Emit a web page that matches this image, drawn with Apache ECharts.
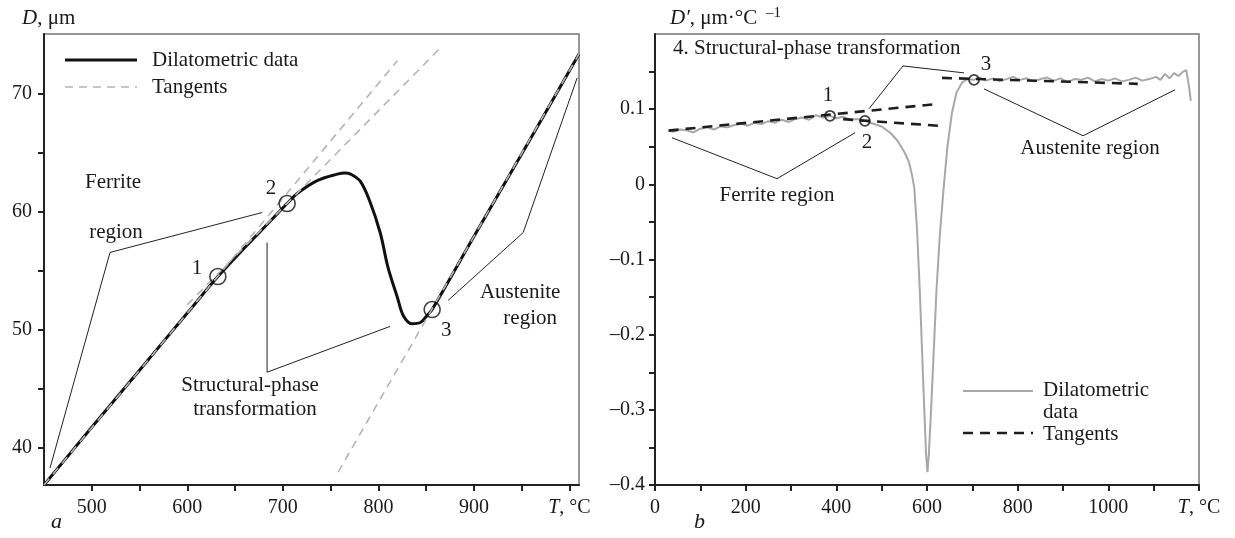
<!DOCTYPE html>
<html>
<head>
<meta charset="utf-8">
<script src="https://cdn.jsdelivr.net/npm/echarts@6/dist/echarts.min.js"></script>
<style>
  html, body { margin: 0; padding: 0; background: #fff; }
  #chart { width: 1235px; height: 538px; }
</style>
</head>
<body>
<div id="chart"></div>
<script>
// ---- Panel a: dilatometric curve D(T) ----
const leftT = [450, 500, 550, 600, 632, 660, 685, 704.5, 715, 736, 757, 765, 771, 781, 791, 802, 810, 820, 826, 835, 844, 851, 856.3, 900, 950, 1010];
const leftD = [36.8, 41.7, 46.55, 51.4, 54.5, 56.95, 59.05, 60.7, 61.55, 62.65, 63.2, 63.3, 63.2, 62.6, 60.9, 58.2, 55.3, 52.7, 51.2, 50.5, 50.6, 51.2, 51.7, 57.9, 64.9, 73.4];
// tangent segments [T0, D0, T1, D1]
const leftTangents = [
  [450, 36.8, 819.6, 72.8],
  [600, 52.1, 864.7, 73.9],
  [757.9, 37.9, 1010, 73.4]
];
// characteristic points 1, 2, 3
const leftPtsT = [632, 704.5, 856.3];
const leftPtsD = [54.5, 60.7, 51.7];
const leftPtNames = ['1', '2', '3'];
const leftPtLabelPos = [[610.2, 55.2], [687.5, 62.0], [871, 49.9]];
const leftXTicks = [500, 550, 600, 650, 700, 750, 800, 850, 900, 950, 1000];
const leftXLabels = [500, 600, 700, 800, 900, 1000];
const leftYTicks = [40, 45, 50, 55, 60, 65, 70];
const leftYLabels = [40, 50, 60, 70];

// ---- Panel b: derivative D'(T) ----
const rightT = [30, 40, 55, 70, 85, 100, 115, 130, 145, 160, 175, 190, 205, 220, 235, 250, 265, 280, 295, 310, 325, 340, 355, 370, 386, 400, 415, 430, 445, 463,
  480, 500, 520, 535, 550, 560, 567, 572, 578, 584, 589, 594, 598, 601, 604, 609, 615, 621, 628, 636, 645, 655, 665, 678, 690, 703,
  715, 730, 745, 760, 775, 790, 805, 820, 835, 850, 865, 880, 895, 910, 925, 940, 955, 970, 985, 1000, 1015, 1030, 1045, 1060, 1075, 1090, 1105, 1115, 1125, 1135, 1145, 1155, 1165, 1172, 1178, 1182];
const rightD = [0.072, 0.070, 0.073, 0.072, 0.069, 0.074, 0.076, 0.073, 0.077, 0.076, 0.079, 0.081, 0.078, 0.082, 0.080, 0.084, 0.082, 0.086, 0.083, 0.087, 0.089, 0.086, 0.092, 0.089, 0.091, 0.088, 0.090, 0.086, 0.087, 0.0845,
  0.081, 0.077, 0.068, 0.058, 0.043, 0.030, 0.012, -0.005, -0.06, -0.14, -0.22, -0.30, -0.36, -0.383, -0.36, -0.30, -0.22, -0.14, -0.07, -0.01, 0.05, 0.095, 0.122, 0.136, 0.140, 0.139,
  0.142, 0.138, 0.141, 0.137, 0.140, 0.143, 0.139, 0.141, 0.137, 0.140, 0.142, 0.138, 0.141, 0.136, 0.140, 0.139, 0.142, 0.137, 0.140, 0.138, 0.141, 0.137, 0.139, 0.142, 0.138, 0.140, 0.143, 0.139, 0.147, 0.141, 0.148, 0.144, 0.150, 0.152, 0.130, 0.111];
const rightTangents = [
  [30, 0.0715, 624, 0.107],
  [415, 0.0867, 624, 0.078],
  [633, 0.1416, 1065, 0.1337]
];
const rightPtsT = [386, 463, 703.7];
const rightPtsD = [0.0912, 0.0845, 0.139];
const rightPtNames = ['1', '2', '3'];
const rightPtLabelPos = [[381.6, 0.1177], [467.7, 0.0553], [730, 0.160]];
const rightXTicks = [0, 100, 200, 300, 400, 500, 600, 700, 800, 900, 1000, 1100, 1200];
const rightXLabels = [0, 200, 400, 600, 800, 1000, 1200];
const rightYTicks = [-0.4, -0.35, -0.3, -0.25, -0.2, -0.15, -0.1, -0.05, 0, 0.05, 0.1, 0.15];
const rightYLabels = [-0.4, -0.3, -0.2, -0.1, 0, 0.1];

// ---- callouts (leader polylines and captions, data coordinates) ----
const leftLeaders = [
  [[456.3, 38.24], [519.1, 56.55], [678.3, 59.94]],
  [[683.5, 57.39], [683.5, 46.38], [812.3, 50.27]],
  [[1008.1, 71.38], [951.6, 58.24], [873.0, 52.48]]
];
const leftCaptions = [
  ['Ferrite', 522.3, 62.48], ['region', 525.4, 58.24],
  ['Structural-phase', 665.7, 45.27], ['transformation', 670.9, 43.24],
  ['Austenite', 948.4, 53.16], ['region', 958.9, 50.95]
];
const rightLeaders = [
  [[37.5, 0.062], [269.1, 0.0075], [441.2, 0.0686]],
  [[472, 0.1005], [547, 0.1575], [681.7, 0.1483]],
  [[725.8, 0.127], [944.2, 0.0646], [1147, 0.1257]]
];
const rightCaptions = [
  ['Ferrite region', 269, -0.015],
  ['Austenite region', 959.6, 0.0474]
];

const FONT = 'Liberation Serif';
const TXT = '#1a1a1a';
const TICK_FS = 20;
const TEXT_FS = 21;

function seg(a) { return [[a[0], a[1]], [a[2], a[3]]]; }
function pairs(xs, ys) { return xs.map((x, i) => [x, ys[i]]); }

function axisBase(extra) {
  return Object.assign({
    type: 'value',
    axisLine: { show: true, onZero: false, lineStyle: { color: '#222', width: 2 } },
    splitLine: { show: false }
  }, extra);
}
function ticks(values) {
  return { show: true, inside: false, length: 6, customValues: values, lineStyle: { color: '#222', width: 2 } };
}

const series = [];

// panel a curve
series.push({
  type: 'line', xAxisIndex: 0, yAxisIndex: 0, data: pairs(leftT, leftD),
  smooth: 0.35, symbol: 'none', lineStyle: { color: '#111', width: 3 }, z: 3
});
leftTangents.forEach(t => series.push({
  type: 'line', xAxisIndex: 0, yAxisIndex: 0, data: seg(t), symbol: 'none',
  lineStyle: { color: '#b4b4b4', width: 1.6, type: [8, 6] }, z: 4
}));
series.push({
  type: 'scatter', xAxisIndex: 0, yAxisIndex: 0, data: pairs(leftPtsT, leftPtsD),
  symbol: 'circle', symbolSize: 16,
  itemStyle: { color: 'rgba(255,255,255,0)', borderColor: '#111', borderWidth: 1.6 }, z: 5
});
leftLeaders.forEach(l => series.push({
  type: 'line', xAxisIndex: 0, yAxisIndex: 0, data: l, symbol: 'none',
  lineStyle: { color: '#222', width: 1 }, z: 2
}));

// panel b curve
series.push({
  type: 'line', xAxisIndex: 1, yAxisIndex: 1, data: pairs(rightT, rightD),
  symbol: 'none', lineStyle: { color: '#a8a8a8', width: 2 }, z: 3
});
rightTangents.forEach(t => series.push({
  type: 'line', xAxisIndex: 1, yAxisIndex: 1, data: seg(t), symbol: 'none',
  lineStyle: { color: '#1e1e1e', width: 2.6, type: [10, 7] }, z: 4
}));
series.push({
  type: 'scatter', xAxisIndex: 1, yAxisIndex: 1, data: pairs(rightPtsT, rightPtsD),
  symbol: 'circle', symbolSize: 10,
  itemStyle: { color: 'rgba(255,255,255,0)', borderColor: '#111', borderWidth: 1.8 }, z: 5
});
rightLeaders.forEach(l => series.push({
  type: 'line', xAxisIndex: 1, yAxisIndex: 1, data: l, symbol: 'none',
  lineStyle: { color: '#222', width: 1 }, z: 2
}));

const tUnit = {
  i: { fontStyle: 'italic', fontFamily: FONT, fontSize: TICK_FS, color: TXT },
  n: { fontFamily: FONT, fontSize: TICK_FS, color: TXT }
};
const tickLabel = { fontFamily: FONT, fontSize: TICK_FS, color: TXT };

function txt(text, x, y, extra) {
  return Object.assign({
    type: 'text', x: x, y: y,
    style: Object.assign({ text: text, fontFamily: FONT, fontSize: TEXT_FS, fill: TXT, align: 'left', verticalAlign: 'middle' }, extra || {})
  });
}

const staticGraphics = [
  // axis titles
  { type: 'text', x: 22, y: 18, style: { text: '{i|D}{n|, μm}', verticalAlign: 'middle', rich: {
    i: { fontStyle: 'italic', fontFamily: FONT, fontSize: TEXT_FS, fill: TXT },
    n: { fontFamily: FONT, fontSize: TEXT_FS, fill: TXT } } } },
  { type: 'text', x: 670, y: 18, style: { text: '{i|D′}{n|, μm·°C}', verticalAlign: 'middle', rich: {
    i: { fontStyle: 'italic', fontFamily: FONT, fontSize: TEXT_FS, fill: TXT },
    n: { fontFamily: FONT, fontSize: TEXT_FS, fill: TXT } } } },
  txt('–1', 766, 13, { fontSize: 15 }),
  txt('4. Structural-phase transformation', 673, 48),
  // panel letters
  txt('a', 51, 522, { fontStyle: 'italic', fontSize: 22 }),
  txt('b', 694, 522, { fontStyle: 'italic', fontSize: 22 }),
  // legend, panel a
  { type: 'line', shape: { x1: 65, y1: 60, x2: 137, y2: 60 }, style: { stroke: '#111', lineWidth: 3 } },
  txt('Dilatometric data', 152, 60),
  { type: 'line', shape: { x1: 65, y1: 87, x2: 137, y2: 87 }, style: { stroke: '#b4b4b4', lineWidth: 1.6, lineDash: [8, 6] } },
  txt('Tangents', 152, 87),
  // legend, panel b
  { type: 'line', shape: { x1: 963, y1: 391, x2: 1033, y2: 391 }, style: { stroke: '#a8a8a8', lineWidth: 2 } },
  txt('Dilatometric', 1043, 390),
  txt('data', 1043, 412),
  { type: 'line', shape: { x1: 963, y1: 433, x2: 1033, y2: 433 }, style: { stroke: '#1e1e1e', lineWidth: 2.6, lineDash: [10, 7] } },
  txt('Tangents', 1043, 434)
];

const option = {
  animation: false,
  backgroundColor: '#fff',
  grid: [
    { left: 44, right: 656, top: 34, bottom: 53, show: true, borderColor: '#777', borderWidth: 1.5, backgroundColor: 'transparent' },
    { left: 655, right: 36, top: 34, bottom: 53, show: true, borderColor: '#777', borderWidth: 1.5, backgroundColor: 'transparent' }
  ],
  xAxis: [
    axisBase({
      gridIndex: 0, min: 450, max: 1010, axisTick: ticks(leftXTicks),
      axisLabel: Object.assign({ customValues: leftXLabels, margin: 13, rich: tUnit,
        formatter: v => v === 1000 ? '{i|T}{n|, °C}' : String(v) }, tickLabel)
    }),
    axisBase({
      gridIndex: 1, min: 0, max: 1200, axisTick: ticks(rightXTicks),
      axisLabel: Object.assign({ customValues: rightXLabels, margin: 13, rich: tUnit,
        formatter: v => v === 1200 ? '{i|T}{n|, °C}' : String(v) }, tickLabel)
    })
  ],
  yAxis: [
    axisBase({
      gridIndex: 0, min: 36.8, max: 75.1, axisTick: ticks(leftYTicks),
      axisLabel: Object.assign({ customValues: leftYLabels, margin: 12 }, tickLabel)
    }),
    axisBase({
      gridIndex: 1, min: -0.4, max: 0.2, axisTick: ticks(rightYTicks),
      axisLabel: Object.assign({ customValues: rightYLabels, margin: 10,
        formatter: v => Math.abs(v) < 1e-9 ? '0' : v.toFixed(1).replace('-', '–') }, tickLabel)
    })
  ],
  graphic: staticGraphics,
  series: series
};

const chart = echarts.init(document.getElementById('chart'), null, { renderer: 'canvas' });
chart.setOption(option);

// captions and point numbers positioned through the axes' scales
const placed = [];
function place(gridIdx, list) {
  list.forEach(c => {
    const p = chart.convertToPixel({ gridIndex: gridIdx }, [c[1], c[2]]);
    placed.push(txt(c[0], p[0], p[1], { align: 'center' }));
  });
}
place(0, leftCaptions);
place(0, leftPtNames.map((n, i) => [n, leftPtLabelPos[i][0], leftPtLabelPos[i][1]]));
place(1, rightCaptions);
place(1, rightPtNames.map((n, i) => [n, rightPtLabelPos[i][0], rightPtLabelPos[i][1]]));
chart.setOption({ graphic: staticGraphics.concat(placed) }, { replaceMerge: ['graphic'] });
</script>
</body>
</html>
